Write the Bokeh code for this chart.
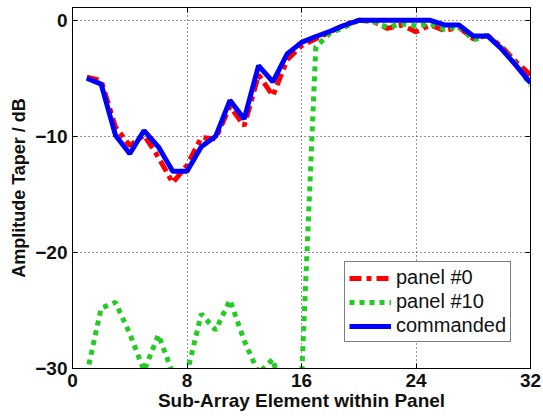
from bokeh.plotting import figure
from bokeh.models import Range1d, LinearAxis, FixedTicker, Legend, LegendItem
from bokeh.embed import file_html
from bokeh.resources import INLINE

# data
elements = list(range(1, 33))
panel0 = [-4.9, -5.2, -9.2, -10.8, -9.9, -11.8, -14.0, -12.5, -10.1, -10.2, -7.4, -9.1,
          -4.7, -6.5, -3.4, -2.2, -1.6, -1.0, -0.4, 0.0, -0.1, -0.7, -0.4, -1.0,
          -0.4, -0.9, -0.6, -1.6, -1.3, -2.3, -3.6, -4.7]
panel10 = [-30.5, -24.8, -24.3, -27.0, -30.2, -27.1, -30.4, -30.4, -25.3, -26.7, -24.1, -27.6,
           -30.4, -29.2, -34.0, -31.0, -2.3, -1.1, -0.6, 0.0, -0.1, -0.6, -0.3, -0.5,
           -0.3, -0.8, -0.5, -1.7, -1.3, -2.4, -3.8, -5.6]
commanded = [-5.0, -5.5, -9.9, -11.5, -9.5, -10.9, -13.0, -13.0, -10.9, -10.0, -6.9, -8.5,
             -3.9, -5.3, -2.9, -1.9, -1.4, -0.95, -0.43, 0.0, 0.0, 0.0, 0.0, 0.0,
             0.0, -0.4, -0.4, -1.35, -1.35, -2.5, -3.9, -5.4]
x_ticks = [0, 8, 16, 24, 32]
y_ticks = [-30, -20, -10, 0]

FONT = "Liberation Sans"

p = figure(width=543, height=419, output_backend="svg", toolbar_location=None,
           x_range=Range1d(0, 32), y_range=Range1d(-30, 1.1),
           min_border_left=72, min_border_right=13, min_border_top=7, min_border_bottom=51)
p.background_fill_color = "white"
p.border_fill_color = "white"
p.outline_line_color = "black"
p.outline_line_width = 1

for ax, ticks in ((p.xaxis[0], x_ticks), (p.yaxis[0], y_ticks)):
    ax.ticker = FixedTicker(ticks=ticks)
    ax.major_tick_in = 5
    ax.major_tick_out = 0
    ax.minor_tick_line_color = None
    ax.axis_line_color = "black"
    ax.major_label_text_font = FONT
    ax.major_label_text_font_style = "bold"
    ax.major_label_text_font_size = "19px"
    ax.major_label_text_color = "#111111"
    ax.axis_label_text_font = FONT
    ax.axis_label_text_font_style = "bold"
    ax.axis_label_text_color = "#111111"

p.xaxis[0].axis_label = "Sub-Array Element within Panel"
p.xaxis[0].axis_label_text_font_size = "19px"
p.xaxis[0].major_label_standoff = 5
p.xaxis[0].axis_label_standoff = 0
p.yaxis[0].axis_label = "Amplitude Taper / dB"
p.yaxis[0].axis_label_text_font_size = "18px"
p.yaxis[0].major_label_standoff = 5
p.yaxis[0].axis_label_standoff = 3

# mirrored tick marks (top / right), no labels
top = LinearAxis(ticker=FixedTicker(ticks=x_ticks),
                 major_label_overrides={t: "" for t in x_ticks},
                 major_tick_in=5, major_tick_out=0, minor_tick_line_color=None,
                 major_label_standoff=0)
right = LinearAxis(ticker=FixedTicker(ticks=y_ticks),
                   major_label_overrides={t: "" for t in y_ticks},
                   major_tick_in=5, major_tick_out=0, minor_tick_line_color=None,
                   major_label_standoff=0)
p.add_layout(top, "above")
p.add_layout(right, "right")

for g in (p.xgrid[0], p.ygrid[0]):
    g.grid_line_color = "#333333"
    g.grid_line_dash = "1 3"
    g.grid_line_width = 1
p.xgrid[0].ticker = FixedTicker(ticks=x_ticks)
p.ygrid[0].ticker = FixedTicker(ticks=y_ticks)

r0 = p.line(elements, panel0, line_color="#ff0000", line_width=5, line_dash="12 5 5 5")
r10 = p.line(elements, panel10, line_color="#22cc22", line_width=5, line_dash="5 5")
rc = p.line(elements, commanded, line_color="#0000ff", line_width=5)

legend = Legend(items=[LegendItem(label="panel #0", renderers=[r0]),
                       LegendItem(label="panel #10", renderers=[r10]),
                       LegendItem(label="commanded", renderers=[rc])],
                location=(272, 26))
legend.label_text_font = FONT
legend.label_text_font_size = "20px"
legend.label_text_color = "#111111"
legend.label_height = 20
legend.glyph_height = 20
legend.glyph_width = 42
legend.label_standoff = 5
legend.spacing = 1
legend.padding = 4
legend.margin = 0
legend.border_line_color = "black"
legend.border_line_width = 1
legend.background_fill_color = "white"
legend.background_fill_alpha = 1
p.add_layout(legend, "center")

open("out.html", "w").write(file_html(p, INLINE))
